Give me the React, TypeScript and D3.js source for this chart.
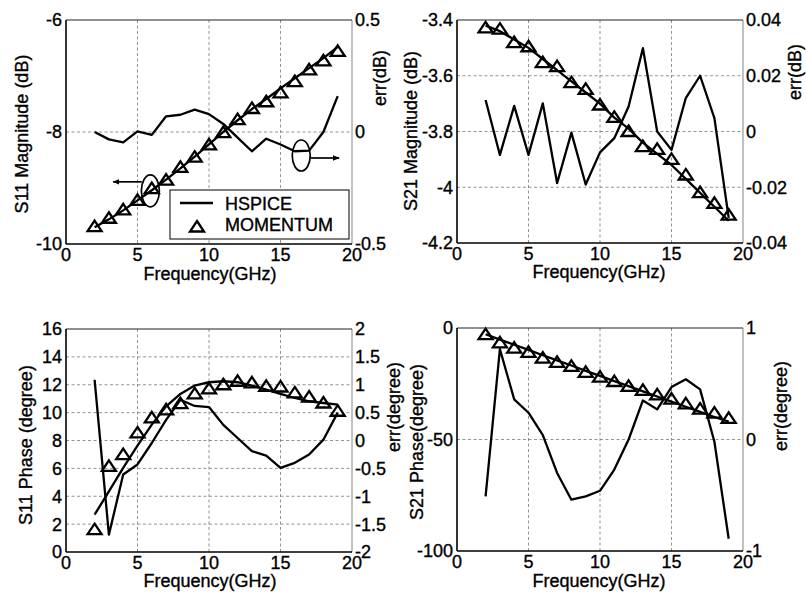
import React from 'react';
import * as d3 from 'd3';

// ---------- data ----------
const freq = [2, 3, 4, 5, 6, 7, 8, 9, 10, 11, 12, 13, 14, 15, 16, 17, 18, 19];
const xTicks = [0, 5, 10, 15, 20];
const xTickLabels = ['0', '5', '10', '15', '20'];

// S11 magnitude
const s11MagHspice = [-9.70, -9.56, -9.40, -9.22, -9.04, -8.85, -8.65, -8.44, -8.22, -8.00, -7.79, -7.59, -7.41, -7.22, -7.04, -6.86, -6.68, -6.48];
const s11MagMomentum = [-9.69, -9.54, -9.39, -9.22, -9.01, -8.86, -8.63, -8.45, -8.23, -8.01, -7.78, -7.58, -7.46, -7.30, -7.10, -6.89, -6.73, -6.56];
const s11MagErr = [0.0, -0.033, -0.046, 0.003, -0.013, 0.07, 0.077, 0.10, 0.08, 0.036, -0.025, -0.086, -0.03, -0.056, -0.086, -0.083, 0.0, 0.16];
const s11MagTicks = [-6, -8, -10];
const s11MagTickLabels = ['-6', '-8', '-10'];
const s11MagErrTicks = [0.5, 0, -0.5];
const s11MagErrTickLabels = ['0.5', '0', '-0.5'];
const s11MagGrid = [-8];

// S21 magnitude
const s21MagHspice = [-3.42, -3.44, -3.47, -3.50, -3.54, -3.58, -3.62, -3.66, -3.70, -3.75, -3.79, -3.84, -3.88, -3.92, -3.97, -4.02, -4.07, -4.12];
const s21MagMomentum = [-3.428, -3.433, -3.481, -3.496, -3.553, -3.567, -3.625, -3.649, -3.705, -3.749, -3.80, -3.854, -3.864, -3.90, -3.956, -4.019, -4.058, -4.10];
const s21MagErr = [0.0113, -0.0084, 0.0092, -0.0084, 0.0101, -0.0185, -0.0004, -0.019, -0.0075, -0.0024, 0.009, 0.0299, 0.0, -0.0066, 0.012, 0.020, 0.0048, -0.031];
const s21MagTicks = [-3.4, -3.6, -3.8, -4, -4.2];
const s21MagTickLabels = ['-3.4', '-3.6', '-3.8', '-4', '-4.2'];
const s21MagErrTicks = [0.04, 0.02, 0, -0.02, -0.04];
const s21MagErrTickLabels = ['0.04', '0.02', '0', '-0.02', '-0.04'];
const s21MagGrid = [-3.6, -3.8, -4];

// S11 phase
const s11PhHspice = [2.68, 4.35, 6.03, 7.63, 9.14, 10.45, 11.34, 11.94, 12.18, 12.25, 12.18, 11.94, 11.65, 11.34, 11.05, 10.81, 10.69, 10.57];
const s11PhMomentum = [1.6, 6.15, 6.99, 8.54, 9.62, 10.2, 10.65, 11.34, 11.7, 12.0, 12.25, 12.13, 11.89, 11.84, 11.41, 11.12, 10.69, 10.1];
const s11PhErr = [1.09, -1.69, -0.61, -0.43, -0.045, 0.37, 0.73, 0.62, 0.60, 0.28, 0.045, -0.19, -0.27, -0.49, -0.40, -0.25, 0.015, 0.50];
const s11PhTicks = [16, 14, 12, 10, 8, 6, 4, 2, 0];
const s11PhTickLabels = ['16', '14', '12', '10', '8', '6', '4', '2', '0'];
const s11PhErrTicks = [2, 1.5, 1, 0.5, 0, -0.5, -1, -1.5, -2];
const s11PhErrTickLabels = ['2', '1.5', '1', '0.5', '0', '-0.5', '-1', '-1.5', '-2'];
const s11PhGrid = [14, 12, 10, 8, 6, 4, 2];

// S21 phase
const s21PhHspice = [-2.8, -5.2, -7.5, -9.8, -12.2, -14.5, -16.8, -19.2, -21.5, -23.8, -26.1, -28.4, -30.7, -33.0, -35.3, -37.6, -39.9, -42.0];
const s21PhMomentum = [-3.0, -6.7, -9.0, -10.9, -13.5, -15.4, -17.2, -19.9, -22.0, -24.0, -26.2, -28.0, -30.0, -31.9, -34.0, -36.4, -38.2, -40.5];
const s21PhErr = [-0.51, 0.81, 0.36, 0.24, 0.04, -0.30, -0.54, -0.51, -0.46, -0.27, 0.0, 0.35, 0.27, 0.47, 0.54, 0.45, -0.02, -0.89];
const s21PhTicks = [0, -50, -100];
const s21PhTickLabels = ['0', '-50', '-100'];
const s21PhErrTicks = [1, 0, -1];
const s21PhErrTickLabels = ['1', '0', '-1'];
const s21PhGrid = [-50];

const FONT = '"Liberation Sans", Arial, Helvetica, sans-serif';
const FS = 18;

type LabelPos = { x: number; y: number };

type PanelProps = {
  left: number; top: number; right: number; bottom: number;
  yDomain: [number, number];
  yTicks: number[]; yTickLabels: string[];
  y2Domain: [number, number];
  y2Ticks: number[]; y2TickLabels: string[];
  gridY: number[];
  hspice: number[]; momentum: number[]; err: number[];
  yLabel: string; y2Label: string;
  yLabelPos: LabelPos; y2LabelPos: LabelPos; xLabelPos: LabelPos;
  annotate?: boolean;
};

function triPath(cx: number, cy: number) {
  const p = d3.path();
  p.moveTo(cx, cy - 6);
  p.lineTo(cx + 7, cy + 4.5);
  p.lineTo(cx - 7, cy + 4.5);
  p.closePath();
  return p.toString();
}

function Panel(props: PanelProps) {
  const { left, top, right, bottom } = props;
  const x = d3.scaleLinear().domain([0, 20]).range([left, right]);
  const y = d3.scaleLinear().domain(props.yDomain).range([bottom, top]);
  const y2 = d3.scaleLinear().domain(props.y2Domain).range([bottom, top]);
  const lineL = d3.line<number>().x((_, i) => x(freq[i])).y((d) => y(d));
  const lineR = d3.line<number>().x((_, i) => x(freq[i])).y((d) => y2(d));
  const gridStyle = { stroke: '#777', strokeWidth: 0.8, strokeDasharray: '3,2.5' };

  let annot: React.ReactNode = null;
  if (props.annotate) {
    const e1x = x(5.9), e1y = y(-9.05);
    const a1y = y(-8.89);
    const e2x = x(16.45), e2y = y2(-0.105);
    const a2y = y2(-0.116);
    annot = (
      <g stroke="#000" fill="none" strokeWidth={1.7}>
        <ellipse cx={e1x} cy={e1y} rx={9} ry={16} />
        <line x1={x(5.3)} y1={a1y} x2={x(3.3)} y2={a1y} markerEnd="url(#arrow)" />
        <ellipse cx={e2x} cy={e2y} rx={9} ry={15.5} />
        <line x1={x(17.1)} y1={a2y} x2={x(19.1)} y2={a2y} markerEnd="url(#arrow)" />
      </g>
    );
  }

  const textStroke = { stroke: '#000', strokeWidth: 0.35 };

  return (
    <g fontFamily={FONT} fontSize={FS} fill="#000">
      <rect x={left} y={top} width={right - left} height={bottom - top} fill="#fff" />
      {/* grid */}
      {xTicks.slice(1, -1).map((t) => (
        <line key={'gx' + t} x1={x(t)} x2={x(t)} y1={top} y2={bottom} style={gridStyle} />
      ))}
      {props.gridY.map((t) => (
        <line key={'gy' + t} x1={left} x2={right} y1={y(t)} y2={y(t)} style={gridStyle} />
      ))}
      {/* data */}
      <path d={lineL(props.hspice) || ''} fill="none" stroke="#000" strokeWidth={2.3} strokeLinejoin="round" />
      <path d={lineR(props.err) || ''} fill="none" stroke="#000" strokeWidth={2.3} strokeLinejoin="round" />
      {props.momentum.map((v, i) => (
        <path key={'m' + i} d={triPath(x(freq[i]), y(v))} fill="none" stroke="#000" strokeWidth={2.3} strokeLinejoin="miter" />
      ))}
      {annot}
      {/* frame */}
      <line x1={right} x2={right} y1={top} y2={bottom} stroke="#999" strokeWidth={1.2} />
      <line x1={left} x2={right} y1={top} y2={top} stroke="#222" strokeWidth={1.2} />
      <line x1={left} x2={left} y1={top} y2={bottom} stroke="#000" strokeWidth={1.6} />
      <line x1={left} x2={right} y1={bottom} y2={bottom} stroke="#000" strokeWidth={1.6} />
      {/* tick labels */}
      <g style={textStroke}>
        {xTicks.map((t, i) => (
          <text key={'lx' + t} x={x(t)} y={bottom + 17} textAnchor="middle">{xTickLabels[i]}</text>
        ))}
        {props.yTicks.map((t, i) => (
          <text key={'ly' + t} x={left - 4} y={y(t)} dy="0.36em" textAnchor="end">{props.yTickLabels[i]}</text>
        ))}
        {props.y2Ticks.map((t, i) => (
          <text key={'ly2' + t} x={right + 3} y={y2(t)} dy="0.36em" textAnchor="start">{props.y2TickLabels[i]}</text>
        ))}
        {/* axis labels */}
        <text x={props.xLabelPos.x} y={props.xLabelPos.y} textAnchor="middle">Frequency(GHz)</text>
        <text transform={`translate(${props.yLabelPos.x},${props.yLabelPos.y}) rotate(-90)`} dy="0.36em" textAnchor="middle">{props.yLabel}</text>
        <text transform={`translate(${props.y2LabelPos.x},${props.y2LabelPos.y}) rotate(-90)`} dy="0.36em" textAnchor="middle">{props.y2Label}</text>
      </g>
    </g>
  );
}

export default function App() {
  return (
    <svg width={806} height={600} style={{ position: 'absolute', left: 0, top: 0, background: '#fff' }}>
      <defs>
        <marker id="arrow" viewBox="0 0 10 10" refX="9" refY="5" markerWidth="7" markerHeight="7" orient="auto-start-reverse" markerUnits="userSpaceOnUse">
          <path d="M0,1 L10,5 L0,9 z" fill="#000" />
        </marker>
      </defs>
      <rect width={806} height={600} fill="#fff" />
      <Panel left={66} top={20} right={352} bottom={244}
        yDomain={[-10, -6]} yTicks={s11MagTicks} yTickLabels={s11MagTickLabels}
        y2Domain={[-0.5, 0.5]} y2Ticks={s11MagErrTicks} y2TickLabels={s11MagErrTickLabels}
        gridY={s11MagGrid} hspice={s11MagHspice} momentum={s11MagMomentum} err={s11MagErr}
        yLabel="S11 Magnitude (dB)" y2Label="err(dB)"
        yLabelPos={{ x: 22, y: 134 }} y2LabelPos={{ x: 380, y: 78 }} xLabelPos={{ x: 210, y: 280 }}
        annotate />
      <Panel left={457} top={20} right={743} bottom={243}
        yDomain={[-4.2, -3.4]} yTicks={s21MagTicks} yTickLabels={s21MagTickLabels}
        y2Domain={[-0.04, 0.04]} y2Ticks={s21MagErrTicks} y2TickLabels={s21MagErrTickLabels}
        gridY={s21MagGrid} hspice={s21MagHspice} momentum={s21MagMomentum} err={s21MagErr}
        yLabel="S21 Magnitude (dB)" y2Label="err(dB)"
        yLabelPos={{ x: 411, y: 131 }} y2LabelPos={{ x: 795, y: 72 }} xLabelPos={{ x: 599, y: 278 }} />
      <Panel left={66} top={329} right={352} bottom={552}
        yDomain={[0, 16]} yTicks={s11PhTicks} yTickLabels={s11PhTickLabels}
        y2Domain={[-2, 2]} y2Ticks={s11PhErrTicks} y2TickLabels={s11PhErrTickLabels}
        gridY={s11PhGrid} hspice={s11PhHspice} momentum={s11PhMomentum} err={s11PhErr}
        yLabel="S11 Phase (degree)" y2Label="err(degree)"
        yLabelPos={{ x: 26, y: 445 }} y2LabelPos={{ x: 394, y: 407 }} xLabelPos={{ x: 210, y: 587 }} />
      <Panel left={457} top={328} right={743} bottom={551}
        yDomain={[-100, 0]} yTicks={s21PhTicks} yTickLabels={s21PhTickLabels}
        y2Domain={[-1, 1]} y2Ticks={s21PhErrTicks} y2TickLabels={s21PhErrTickLabels}
        gridY={s21PhGrid} hspice={s21PhHspice} momentum={s21PhMomentum} err={s21PhErr}
        yLabel="S21 Phase(degree)" y2Label="err(degree)"
        yLabelPos={{ x: 417, y: 442 }} y2LabelPos={{ x: 781, y: 406 }} xLabelPos={{ x: 599, y: 587 }} />
      {/* legend for first panel */}
      <g fontFamily={FONT} fontSize={FS} style={{ stroke: '#000', strokeWidth: 0.35 }}>
        <rect x={170} y={190} width={179} height={49} fill="#fff" stroke="#000" strokeWidth={1} />
        <line x1={180} x2={213} y1={203} y2={203} stroke="#000" strokeWidth={2.3} />
        <text x={225} y={210}>HSPICE</text>
        <path d={triPath(197, 227)} fill="none" stroke="#000" strokeWidth={2.3} style={{ strokeWidth: 2.3 }} />
        <text x={225} y={231}>MOMENTUM</text>
      </g>
    </svg>
  );
}
